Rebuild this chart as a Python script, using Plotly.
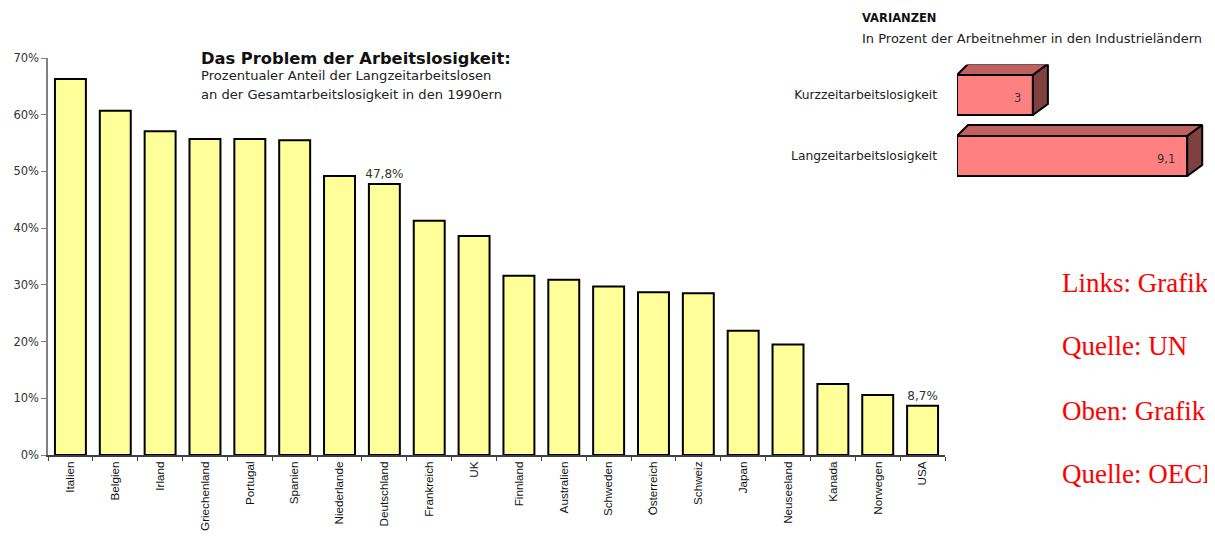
import plotly.graph_objects as go

# ---------------- data ----------------
countries = ["Italien", "Belgien", "Irland", "Griechenland", "Portugal", "Spanien",
             "Niederlande", "Deutschland", "Frankreich", "UK", "Finnland", "Australien",
             "Schweden", "Österreich", "Schweiz", "Japan", "Neuseeland", "Kanada",
             "Norwegen", "USA"]
share_longterm = [66.3, 60.7, 57.1, 55.7, 55.7, 55.5, 49.2, 47.8, 41.3, 38.6,
                  31.6, 30.9, 29.7, 28.7, 28.5, 21.9, 19.5, 12.5, 10.6, 8.7]
labelled = ["Deutschland", "USA"]

var_categories = ["Langzeitarbeitslosigkeit", "Kurzzeitarbeitslosigkeit"]
var_values = [9.1, 3.0]

y_ticks = [0, 10, 20, 30, 40, 50, 60, 70]

# ---------------- layout helpers ----------------
W, H = 1215, 541
OFF = 8  # page body margin
ML, MR, MT, MB = 40, 0, 0, 94
PW, PH = W - ML - MR, H - MT - MB


def px2x(px):
    return (px - OFF - ML) / PW


def py2y(py):
    return (H - MB - (py - OFF)) / PH


def fmt(v):
    s = f"{v:.1f}".replace(".", ",")
    return s[:-2] if s.endswith(",0") else s


fig = go.Figure()

# main bar chart
fig.add_trace(go.Bar(
    x=countries, y=share_longterm,
    width=0.69,
    marker=dict(color="#FFFF99", line=dict(color="#000000", width=2)),
    text=[fmt(v) + "%" if c in labelled else "" for c, v in zip(countries, share_longterm)],
    textposition="outside", constraintext="none",
    textfont=dict(family="DejaVu Sans", size=12, color="#333333"),
    cliponaxis=False,
    xaxis="x", yaxis="y",
    hoverinfo="skip",
))

# ---- 3D horizontal bars (Varianzen) ----
ypos = list(range(len(var_categories)))
bw = 0.656
px_per_x = 25.3
px_per_y = 61.0
dxl, dxr, dy = 11 / px_per_x, 15 / px_per_x, 11 / px_per_y

fig.add_trace(go.Bar(
    y=ypos, x=var_values, orientation="h", width=bw,
    marker=dict(color="#FF8080", line=dict(color="#000000", width=2)),
    xaxis="x2", yaxis="y2", hoverinfo="skip",
))

for yc, v in zip(ypos, var_values):
    top = yc + bw / 2
    bot = yc - bw / 2
    # top face
    fig.add_trace(go.Scatter(
        x=[0, v, v + dxr, dxl, 0],
        y=[top, top, top + dy, top + dy, top],
        mode="lines", fill="toself", fillcolor="#C06060",
        line=dict(color="#000000", width=2),
        xaxis="x2", yaxis="y2", hoverinfo="skip", showlegend=False,
    ))
    # side face
    fig.add_trace(go.Scatter(
        x=[v, v + dxr, v + dxr, v, v],
        y=[top, top + dy, bot + dy, bot, top],
        mode="lines", fill="toself", fillcolor="#804040",
        line=dict(color="#000000", width=2),
        xaxis="x2", yaxis="y2", hoverinfo="skip", showlegend=False,
    ))
    fig.add_annotation(
        x=v, y=yc, xref="x2", yref="y2", text=fmt(v),
        showarrow=False, xanchor="right", xshift=-10, yshift=-3,
        font=dict(family="DejaVu Sans", size=11.5, color="#333333"),
    )

annotations_text = [
    dict(x=px2x(199), y=py2y(58), text="<b>Das Problem der Arbeitslosigkeit:</b>",
         font=dict(family="DejaVu Sans", size=16.3, color="#111111")),
    dict(x=px2x(199), y=py2y(76), text="Prozentualer Anteil der Langzeitarbeitslosen",
         font=dict(family="DejaVu Sans", size=13.1, color="#222222")),
    dict(x=px2x(199), y=py2y(94), text="an der Gesamtarbeitslosigkeit in den 1990ern",
         font=dict(family="DejaVu Sans", size=13.1, color="#222222")),
    dict(x=px2x(860), y=py2y(18), text="<b>VARIANZEN</b>",
         font=dict(family="DejaVu Sans", size=11.5, color="#111111")),
    dict(x=px2x(860), y=py2y(38), text="In Prozent der Arbeitnehmer in den Industrieländern",
         font=dict(family="DejaVu Sans", size=13, color="#222222")),
]
for t, yy in zip(["Links: Grafik", "Quelle: UN", "Oben: Grafik", "Quelle: OECD"],
                 [283, 346, 411, 474]):
    annotations_text.append(dict(
        x=px2x(1060), y=py2y(yy), text=t,
        font=dict(family="Liberation Serif", size=27, color="#FF0000")))

for a in annotations_text:
    fig.add_annotation(xref="paper", yref="paper", xanchor="left", yanchor="middle",
                       showarrow=False, **a)

fig.update_layout(
    width=W, height=H,
    margin=dict(l=ML, r=MR, t=MT, b=MB, pad=0, autoexpand=False),
    paper_bgcolor="#FFFFFF", plot_bgcolor="#FFFFFF",
    showlegend=False,
    separators=",.",
    xaxis=dict(
        domain=[0, px2x(945)], automargin=False,
        type="category",
        tickson="boundaries", ticks="outside", ticklen=4, tickcolor="#404040",
        tickangle=-90,
        tickfont=dict(family="Liberation Sans", size=11.7, color="#111111"),
        showline=True, linecolor="#404040", linewidth=1.5,
        showgrid=False, zeroline=False,
    ),
    yaxis=dict(
        domain=[0, py2y(58)], automargin=False,
        range=[0, 70],
        tickmode="array", tickvals=y_ticks,
        ticktext=[f"{v}%" for v in y_ticks],
        ticks="outside", ticklen=5, tickcolor="#808080",
        tickfont=dict(family="DejaVu Sans", size=11.5, color="#333333"),
        showline=True, linecolor="#808080", linewidth=1.5,
        showgrid=False, zeroline=False,
    ),
    xaxis2=dict(
        domain=[px2x(957), 1.0], range=[0, (W + OFF - 957) / px_per_x], anchor="y2",
        visible=False, showgrid=False, zeroline=False, automargin=False,
    ),
    yaxis2=dict(
        domain=[py2y(186.5), py2y(64.5)], range=[-0.5, 1.5], anchor="x2",
        automargin=False,
        tickmode="array", tickvals=ypos, ticktext=var_categories, ticks="",
        ticklabelstandoff=19,
        tickfont=dict(family="DejaVu Sans", size=12.3, color="#222222"),
        showline=False, showgrid=False, zeroline=False,
    ),
)

fig.write_html("out.html")
